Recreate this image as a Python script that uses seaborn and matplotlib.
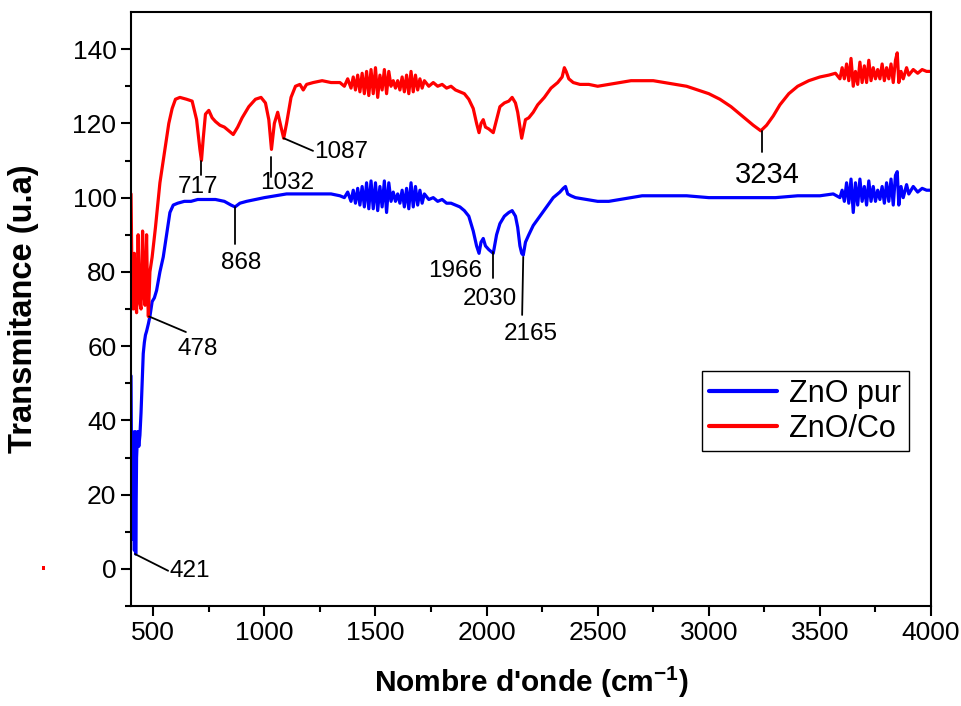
import numpy as np
import pandas as pd
import matplotlib
matplotlib.use("Agg")
import matplotlib.pyplot as plt
import seaborn as sns
from matplotlib.patches import Rectangle

# =========================
# Data
# =========================
red_wn = [400, 405, 410, 415, 420, 425, 432, 438, 445, 452, 458, 463, 470, 474, 478, 485, 495,
          510, 530, 550, 570, 585, 600, 620, 650, 675, 695, 710, 717, 725, 735, 750, 765, 780,
          800, 820, 840, 860, 880, 900, 930, 960, 985, 1005, 1020, 1032, 1045, 1060, 1075, 1087,
          1100, 1120, 1140, 1160, 1175, 1190, 1220, 1260, 1300, 1340, 1360, 1375, 1390, 1400,
          1410, 1420, 1430, 1440, 1450, 1460, 1470, 1480, 1490, 1500, 1510, 1520, 1530, 1540,
          1550, 1560, 1570, 1580, 1590, 1600, 1610, 1620, 1630, 1640, 1650, 1660, 1670, 1680,
          1690, 1700, 1710, 1720, 1740, 1760, 1780, 1800, 1820, 1840, 1860, 1880, 1900, 1920,
          1940, 1955, 1966, 1975, 1985, 1995, 2010, 2030, 2045, 2060, 2080, 2100, 2115, 2130,
          2140, 2150, 2158, 2165, 2175, 2190, 2210, 2230, 2260, 2290, 2320, 2340, 2350, 2358,
          2370, 2390, 2420, 2460, 2500, 2550, 2600, 2650, 2700, 2750, 2800, 2850, 2900, 2950,
          3000, 3050, 3100, 3150, 3200, 3234, 3260, 3290, 3320, 3360, 3400, 3450, 3500, 3540,
          3570, 3590, 3600, 3610, 3620, 3630, 3640, 3650, 3660, 3670, 3680, 3690, 3700, 3710,
          3720, 3730, 3740, 3750, 3760, 3770, 3780, 3790, 3800, 3810, 3820, 3830, 3840, 3848,
          3855, 3865, 3875, 3890, 3900, 3920, 3940, 3960, 3980, 4000]
red_t = [101, 75, 70, 85, 72, 69, 90, 72, 70, 91, 74, 71, 90, 75, 68, 80, 84,
         92, 104, 112, 120, 124, 126.5, 127, 126.5, 126, 121, 113, 110, 116, 122.5, 123.5, 121.5, 120.5,
         119.5, 119, 118, 117, 119, 121.5, 124.5, 126.5, 127, 125.5, 121, 113, 120, 123, 119, 116,
         120, 127, 130, 130.5, 129, 130.5, 131, 131.5, 131, 131, 130, 132, 129.5, 132.5,
         129, 133, 128.5, 133.5, 128, 134, 127.5, 134.5, 128, 135, 127, 133, 129, 134.5,
         128, 134, 130, 131.5, 129.5, 131.5, 129, 132.5, 128.5, 133, 128, 134, 128.5, 133,
         129, 132, 129.5, 131.5, 130, 131, 130, 130.5, 129.5, 130, 129, 128.5, 128, 126.5,
         124, 120, 117.5, 120, 121, 119, 118.5, 117.5, 121, 124.5, 125.5, 126, 127, 125.5,
         123, 119, 116, 118, 121, 121.5, 123, 125, 127, 129.5, 131, 132.5, 135, 134,
         132, 131, 130.5, 130.5, 130, 130.5, 131, 131.5, 131.5, 131.5, 131, 130.5, 130, 129,
         128, 126.5, 124.5, 122, 119.5, 118, 119.5, 122, 125, 128, 130, 131.5, 132.5, 133,
         133.5, 132, 135, 132, 136, 131.5, 137.5, 130, 134, 130.5, 136.5, 131, 135.5, 131,
         137, 131.5, 135, 132, 134.5, 132, 136, 131.5, 135, 132, 136, 131, 137, 139,
         131, 134, 132, 135, 133, 134.5, 133.5, 134.5, 134, 134]

blue_wn = [400, 403, 406, 409, 412, 415, 418, 421, 425, 430, 435, 440, 445, 450, 455, 460, 465,
           470, 478, 485, 495, 505, 515, 530, 545, 560, 575, 590, 610, 640, 670, 700, 740, 780,
           820, 850, 868, 890, 920, 960, 1000, 1050, 1100, 1150, 1200, 1250, 1300, 1340, 1360,
           1375, 1390, 1400, 1410, 1420, 1430, 1440, 1450, 1460, 1470, 1480, 1490, 1500, 1510,
           1520, 1530, 1540, 1550, 1560, 1570, 1580, 1590, 1600, 1610, 1620, 1630, 1640, 1650,
           1660, 1670, 1680, 1690, 1700, 1710, 1720, 1740, 1760, 1780, 1800, 1820, 1840, 1860,
           1880, 1900, 1920, 1940, 1955, 1966, 1975, 1985, 1995, 2010, 2030, 2045, 2060, 2080,
           2100, 2115, 2130, 2140, 2150, 2158, 2165, 2175, 2190, 2210, 2240, 2270, 2300, 2330,
           2345, 2355, 2365, 2380, 2400, 2450, 2500, 2550, 2600, 2650, 2700, 2750, 2800, 2900,
           3000, 3100, 3200, 3300, 3400, 3500, 3560, 3590, 3600, 3610, 3620, 3630, 3640, 3650,
           3660, 3670, 3680, 3690, 3700, 3710, 3720, 3730, 3740, 3750, 3760, 3770, 3780, 3790,
           3800, 3810, 3820, 3830, 3840, 3848, 3855, 3865, 3875, 3890, 3900, 3920, 3940, 3960,
           3980, 4000]
blue_t = [52, 20, 37, 8, 36, 5, 37, 4, 30, 37, 33, 36, 42, 50, 58, 61, 63,
          64, 66, 68, 72, 73, 75, 80, 84, 90, 96, 98, 98.5, 99, 99, 99.5, 99.5, 99.5,
          99, 98, 97.5, 98.5, 99, 99.5, 100, 100.5, 101, 101, 101, 101, 101, 100.5, 100,
          101.5, 99, 102, 98.5, 102.5, 98, 103, 97.5, 104, 97, 104.5, 97, 104, 96.5,
          103, 97.5, 104.5, 96, 104, 99, 101.5, 99, 101, 98.5, 102, 97.5, 102.5, 97,
          104, 97.5, 103, 98, 102, 98.5, 101, 99.5, 100, 99, 99.5, 98.5, 98.5, 98,
          97.5, 96.5, 95, 91, 87, 85, 88, 89, 87, 86, 85, 90, 93, 95,
          96, 96.5, 95, 92, 87, 85, 84.5, 88, 90, 92.5, 95, 97.5, 100, 101.5,
          102.5, 103, 101, 100.5, 100, 99.5, 99, 99, 99.5, 100, 100.5, 100.5, 100.5, 100.5,
          100, 100, 100, 100, 100.5, 100.5, 101, 100, 102, 99, 104, 98.5, 105, 96,
          104, 98, 105, 99, 103, 98, 104.5, 99, 103, 99, 102, 99.5, 103, 98.5,
          104, 99, 105, 98, 106, 107, 98, 103, 100, 103.5, 101, 103, 101.5, 102.5,
          102, 102]

series_names = ["ZnO pur", "ZnO/Co"]
series_colors = ["#0000ff", "#ff0000"]

peak_labels = ["421", "478", "717", "868", "1032", "1087", "1966", "2030", "2165", "3234"]

df = pd.concat([
    pd.DataFrame({"wn": blue_wn, "T": blue_t, "sample": series_names[0]}),
    pd.DataFrame({"wn": red_wn, "T": red_t, "sample": series_names[1]}),
], ignore_index=True)

# =========================
# Style
# =========================
sns.set_style("ticks")
plt.rcParams.update({
    "font.family": ["Liberation Sans", "DejaVu Sans"],
    "mathtext.fontset": "custom",
    "mathtext.rm": "Liberation Sans",
    "mathtext.bf": "Liberation Sans:bold",
    "axes.linewidth": 1.5,
    "text.color": "black",
    "axes.labelcolor": "black",
    "xtick.color": "black",
    "ytick.color": "black",
})

fig = plt.figure(figsize=(9.62, 7.06), dpi=100)
ax = fig.add_axes([0.1362, 0.1416, 0.8316, 0.8414])

sns.lineplot(data=df, x="wn", y="T", hue="sample", hue_order=series_names,
             palette=series_colors, estimator=None, sort=False, lw=2.3, ax=ax)

ax.set_xlim(400, 4000)
ax.set_ylim(-10, 150)
ax.set_xticks(np.arange(500, 4001, 500))
ax.set_xticks(np.arange(750, 4000, 500), minor=True)
ax.set_yticks(np.arange(0, 141, 20))
ax.set_yticks(np.arange(-10, 150, 20), minor=True)
ax.tick_params(axis="both", which="major", direction="out", length=7, width=1.5,
               labelsize=19)
ax.tick_params(axis="both", which="minor", direction="out", length=4, width=1.5)
for s in ax.spines.values():
    s.set_visible(True)
    s.set_color("black")

ax.set_xlabel(r"Nombre d'onde (cm$^{\mathbf{-1}}$)", fontsize=21.5, fontweight="bold", labelpad=14)
ax.set_ylabel("Transmitance (u.a)", fontsize=23.5, fontweight="bold", labelpad=24)

# ---- peak markers: (peak point, line end, text pos, ha, size) ----
marks = [
    ((418, 4), (567, -0.5), (575, -0.5), "left", 17.5),
    ((481, 68), (647, 63.8), (607, 59.2), "left", 17.5),
    ((717, 110), (717, 106), (701, 102.9), "center", 17.5),
    ((868, 97.5), (868, 87.5), (895, 82.4), "center", 17.5),
    ((1032, 111), (1032, 105.5), (1101, 104), "center", 17.5),
    ((1087, 116), (1219, 112.6), (1225, 112.3), "left", 17.5),
    (None, None, (1858, 80.2), "center", 17.5),
    ((2030, 85.3), (2030, 78.3), (2015, 72.7), "center", 17.5),
    ((2165, 84), (2160, 68.4), (2200, 63.3), "center", 17.5),
    ((3240, 118), (3240, 112.3), (3262, 106), "center", 21),
]
for lab, (p0, p1, tp, ha, fs) in zip(peak_labels, marks):
    if p0 is not None:
        ax.plot([p0[0], p1[0]], [p0[1], p1[1]], color="black", lw=1.3)
    ax.text(tp[0], tp[1], lab, ha=ha, va="center", fontsize=fs, color="black")

# ---- legend ----
handles, labels = ax.get_legend_handles_labels()
leg = ax.legend(handles, labels, loc="upper right", bbox_to_anchor=(0.972, 0.395),
                fontsize=22, frameon=True, fancybox=False, framealpha=1,
                handlelength=2.2, borderpad=0.25, labelspacing=0.15, handletextpad=0.4,
                borderaxespad=0)
leg.get_frame().set_edgecolor("black")
leg.get_frame().set_linewidth(1.0)
for line in leg.get_lines():
    line.set_linewidth(3)

# stray red dot left of the axis
fig.add_artist(Rectangle((42 / 962, 136 / 706), 3 / 962, 4 / 706,
                         transform=fig.transFigure, color="#ff0000", lw=0))

fig.savefig("out.png", dpi=100)
